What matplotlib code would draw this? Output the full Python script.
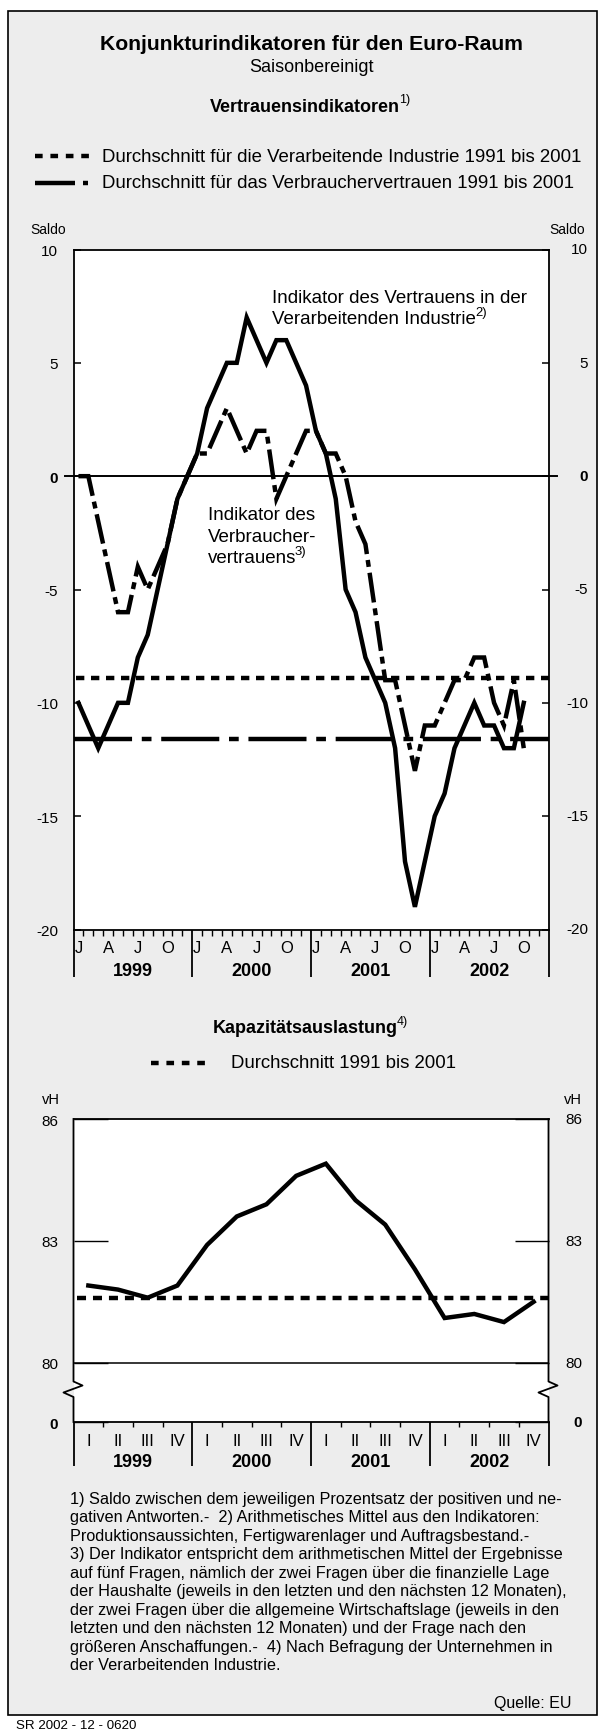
import matplotlib
matplotlib.use('Agg')
import matplotlib.pyplot as plt
import numpy as np
from matplotlib.lines import Line2D
from matplotlib.patches import Rectangle

plt.rcParams['font.family'] = ['Liberation Sans', 'DejaVu Sans']
plt.rcParams['lines.scale_dashes'] = False

# ---------------- data ----------------
years = ['1999', '2000', '2001', '2002']
month_marks = ['J', 'A', 'J', 'O']          # Jan, Apr, Jul, Oct
month_mark_pos = [0, 3, 6, 9]
quarters = ['I', 'II', 'III', 'IV']

# monthly balances Jan 1999 - Oct 2002
industry = [-10, -11, -12, -11, -10, -10, -8, -7, -5, -3, -1, 0,
            1, 3, 4, 5, 5, 7, 6, 5, 6, 6, 5, 4,
            2, 1, -1, -5, -6, -8, -9, -10, -12, -17, -19, -17,
            -15, -14, -12, -11, -10, -11, -11, -12, -12, -10]
consumer = [0, 0, -2, -4, -6, -6, -4, -5, -4, -3, -1, 0,
            1, 1, 2, 3, 2, 1, 2, 2, -1, 0, 1, 2,
            2, 1, 1, 0, -2, -3, -6, -9, -9, -11, -13, -11,
            -11, -10, -9, -9, -8, -8, -10, -11, -9, -12]
industry_avg = -8.9
consumer_avg = -11.6

# quarterly capacity utilisation Q1 1999 - Q4 2002
capacity = [81.9, 81.8, 81.6, 81.9,
            82.9, 83.6, 83.9, 84.6,
            84.9, 84.0, 83.4, 82.3,
            81.1, 81.2, 81.0, 81.5]
capacity_avg = 81.6

top_yticks = [-20, -15, -10, -5, 0, 5, 10]
top_ylabels = ['-20', '-15', '-10', '-5', '0', '5', '10']
bot_yticks = [78.54, 80, 83, 86]
bot_ylabels = ['0', '80', '83', '86']

footnotes = [
    "1) Saldo zwischen dem jeweiligen Prozentsatz der positiven und ne-",
    "gativen Antworten.-  2) Arithmetisches Mittel aus den Indikatoren:",
    "Produktionsaussichten, Fertigwarenlager und Auftragsbestand.-",
    "3) Der Indikator entspricht dem arithmetischen Mittel der Ergebnisse",
    "auf fünf Fragen, nämlich der zwei Fragen über die finanzielle Lage",
    "der Haushalte (jeweils in den letzten und den nächsten 12 Monaten),",
    "der zwei Fragen über die allgemeine Wirtschaftslage (jeweils in den",
    "letzten und den nächsten 12 Monaten) und der Frage nach den",
    "größeren Anschaffungen.-  4) Nach Befragung der Unternehmen in",
    "der Verarbeitenden Industrie.",
]

# ---------------- layout helpers ----------------
W, H = 606, 1733
fig = plt.figure(figsize=(W / 100, H / 100), dpi=100)
fig.patch.set_facecolor('white')
renderer = fig.canvas.get_renderer()


def fxy(px, py):
    return px / W, 1 - py / H


def ftext(px, py, s, **kw):
    x, y = fxy(px, py)
    return fig.text(x, y, s, **kw)


def sup_text(px, py, main, sup, size, weight='normal', ha='left'):
    t = fig.text(0, 0, main, fontsize=size, fontweight=weight, va='center', ha='left')
    w = t.get_window_extent(renderer).width
    s = fig.text(0, 0, sup, fontsize=size * 0.7, va='center', ha='left')
    ws = s.get_window_extent(renderer).width
    left = px - (w + ws) / 2 if ha == 'center' else px
    t.set_position(fxy(left, py))
    s.set_position(fxy(left + w - 1.5, py - size * 0.5))


def fline(xs, ys, **kw):
    pts = [fxy(x, y) for x, y in zip(xs, ys)]
    fig.add_artist(Line2D([p[0] for p in pts], [p[1] for p in pts],
                          transform=fig.transFigure, color='black', **kw))


# frame
fig.patches.append(Rectangle(fxy(8, 1716), (597 - 8) / W, (1716 - 11.7) / H,
                             transform=fig.transFigure, facecolor='#ededed',
                             edgecolor='black', lw=1.2, zorder=-10))

LW = 3.2
L, R = 73.5, 548.5

# ---------------- titles / legends ----------------
ftext(311, 45, "Konjunkturindikatoren für den Euro-Raum", fontsize=15.2,
      fontweight='bold', ha='center', va='center')
ftext(311, 67, "Saisonbereinigt", fontsize=13, ha='center', va='center')
sup_text(311, 107, "Vertrauensindikatoren", "1)", 13, 'bold', 'center')

fline([34.8, 89], [157, 157], lw=LW, linestyle=(0, (5.5, 5.6)), dash_capstyle='butt')
ftext(102.4, 157, "Durchschnitt für die Verarbeitende Industrie 1991 bis 2001",
      fontsize=13.4, va='center')
fline([34.8, 75.4], [183.5, 183.5], lw=LW, solid_capstyle='butt')
fline([83, 87.5], [183.5, 183.5], lw=LW, solid_capstyle='butt')
ftext(102.4, 183.5, "Durchschnitt für das Verbrauchervertrauen 1991 bis 2001",
      fontsize=13.4, va='center')

ftext(48, 230, "Saldo", fontsize=10, ha='center', va='center')
ftext(567, 230, "Saldo", fontsize=10, ha='center', va='center')

# ---------------- top chart ----------------
ax1 = fig.add_axes([L / W, 1 - 930.5 / H, (R - L) / W, (930.5 - 250.5) / H])
ax1.set_facecolor('white')
ax1.set_xlim(0, 48)
ax1.set_ylim(-20, 10)
for sp in ax1.spines.values():
    sp.set_linewidth(1.3)

xm = np.arange(len(industry)) + 0.5
ax1.axhline(industry_avg, color='black', lw=LW, linestyle=(0, (6, 4.8)),
            dash_capstyle='butt', xmin=0.006)
ax1.axhline(consumer_avg, color='black', lw=LW, linestyle=(0, (41.8, 7, 7, 7)),
            dash_capstyle='butt')
ax1.axhline(0, color='black', lw=1.4, xmin=-0.017, xmax=1.017, clip_on=False)
ax1.plot(xm, consumer, color='black', lw=LW, linestyle=(0, (21.6, 4.3, 5, 4.3)),
         dash_capstyle='butt', dash_joinstyle='miter')
ax1.plot(xm, industry, color='black', lw=LW, solid_joinstyle='miter')

ax1.set_yticks(top_yticks)
ax1.set_yticklabels(top_ylabels, fontsize=11)
ax1.tick_params(axis='y', direction='in', length=5, width=1.1, pad=11.2,
                left=True, right=True)
for lbl in ax1.get_yticklabels():
    if lbl.get_text() == '0':
        lbl.set_fontweight('bold')
for v, s in zip(top_yticks, top_ylabels):
    ax1.text((588 - L) / (R - L), v, s, transform=ax1.get_yaxis_transform(),
             ha='right', va='center', fontsize=11,
             fontweight='bold' if s == '0' else 'normal')

ax1.set_xticks(np.arange(0, 49, 12))
ax1.set_xticklabels([])
ax1.set_xticks(np.arange(49), minor=True)
ax1.tick_params(axis='x', which='major', direction='out', length=33.5, width=1.3)
ax1.tick_params(axis='x', which='minor', direction='out', length=4.3, width=1.0)
for i, yr in enumerate(years):
    for p, m in zip(month_mark_pos, month_marks):
        ax1.text(12 * i + p + 0.5, (930.5 - 949) / 680, m,
                 transform=ax1.get_xaxis_transform(), ha='center', va='center',
                 fontsize=12)
    ax1.text(12 * i + 6, (930.5 - 971.7) / 680, yr,
             transform=ax1.get_xaxis_transform(), ha='center', va='center',
             fontsize=13, fontweight='bold')

# annotations
ftext(272.5, 298.5, "Indikator des Vertrauens in der", fontsize=13.5, va='center')
sup_text(272.5, 320, "Verarbeitenden Industrie", "2)", 13.5)
ftext(207.6, 516, "Indikator des", fontsize=13.5, va='center')
ftext(207.6, 537.5, "Verbraucher-", fontsize=13.5, va='center')
sup_text(207.6, 558.5, "vertrauens", "3)", 13.5)

# ---------------- bottom chart ----------------
sup_text(311, 1028.3, "Kapazitätsauslastung", "4)", 13, 'bold', 'center')
fline([150.8, 205.5], [1064, 1064], lw=LW, linestyle=(0, (5.5, 5.6)), dash_capstyle='butt')
ftext(231, 1064, "Durchschnitt 1991 bis 2001", fontsize=13.4, va='center')
ftext(50.8, 1100, "vH", fontsize=10.5, ha='center', va='center')
ftext(573, 1100, "vH", fontsize=10.5, ha='center', va='center')

ax2 = fig.add_axes([L / W, 1 - 1423 / H, (R - L) / W, (1423 - 1120) / H])
ax2.set_facecolor('white')
ax2.set_xlim(0, 16)
ax2.set_ylim(bot_yticks[0], 86)
for sp in ax2.spines.values():
    sp.set_linewidth(1.3)
ax2.spines['left'].set_visible(False)
ax2.spines['right'].set_visible(False)

xq = np.arange(len(capacity)) + 0.5
ax2.axhline(80, color='black', lw=1.1)
ax2.axhline(capacity_avg, color='black', lw=LW, linestyle=(0, (6.5, 5)),
            dash_capstyle='butt', xmin=0.008)
ax2.plot(xq, capacity, color='black', lw=LW, solid_joinstyle='miter')

ax2.set_yticks(bot_yticks)
ax2.set_yticklabels(bot_ylabels, fontsize=11)
ax2.tick_params(axis='y', direction='in', length=24.5, width=1.0, pad=11.2,
                left=True, right=True)
for lbl in ax2.get_yticklabels():
    if lbl.get_text() == '0':
        lbl.set_fontweight('bold')
for v, s in zip(bot_yticks, bot_ylabels):
    ax2.text((582 - L) / (R - L), v, s, transform=ax2.get_yaxis_transform(),
             ha='right', va='center', fontsize=11,
             fontweight='bold' if s == '0' else 'normal')

ax2.set_xticks(np.arange(0, 17, 4))
ax2.set_xticklabels([])
ax2.set_xticks(np.arange(17), minor=True)
ax2.tick_params(axis='x', which='major', direction='out', length=31.5, width=1.3)
ax2.tick_params(axis='x', which='minor', direction='out', length=3.6, width=1.0)
for i, yr in enumerate(years):
    for q, qn in enumerate(quarters):
        ax2.text(4 * i + q + 0.5, (1423 - 1441.7) / 303, qn,
                 transform=ax2.get_xaxis_transform(), ha='center', va='center',
                 fontsize=12)
    ax2.text(4 * i + 2, (1423 - 1462.7) / 303, yr,
             transform=ax2.get_xaxis_transform(), ha='center', va='center',
             fontsize=13, fontweight='bold')

# broken side spines with zigzag
for x0 in (L, R):
    fline([x0, x0, x0 + 9, x0 - 10, x0, x0],
          [1120, 1382.5, 1386.5, 1393.5, 1398, 1423], lw=1.3)

# ---------------- footnotes ----------------
for k, line in enumerate(footnotes):
    ftext(69.6, 1499.3 + 18.52 * k, line, fontsize=11.7, va='center')
ftext(572, 1703.3, "Quelle: EU", fontsize=11.5, ha='right', va='center')
ftext(15.5, 1726.5, "SR 2002 - 12 - 0620", fontsize=9.6, va='center')

fig.savefig('out.png', dpi=100)
